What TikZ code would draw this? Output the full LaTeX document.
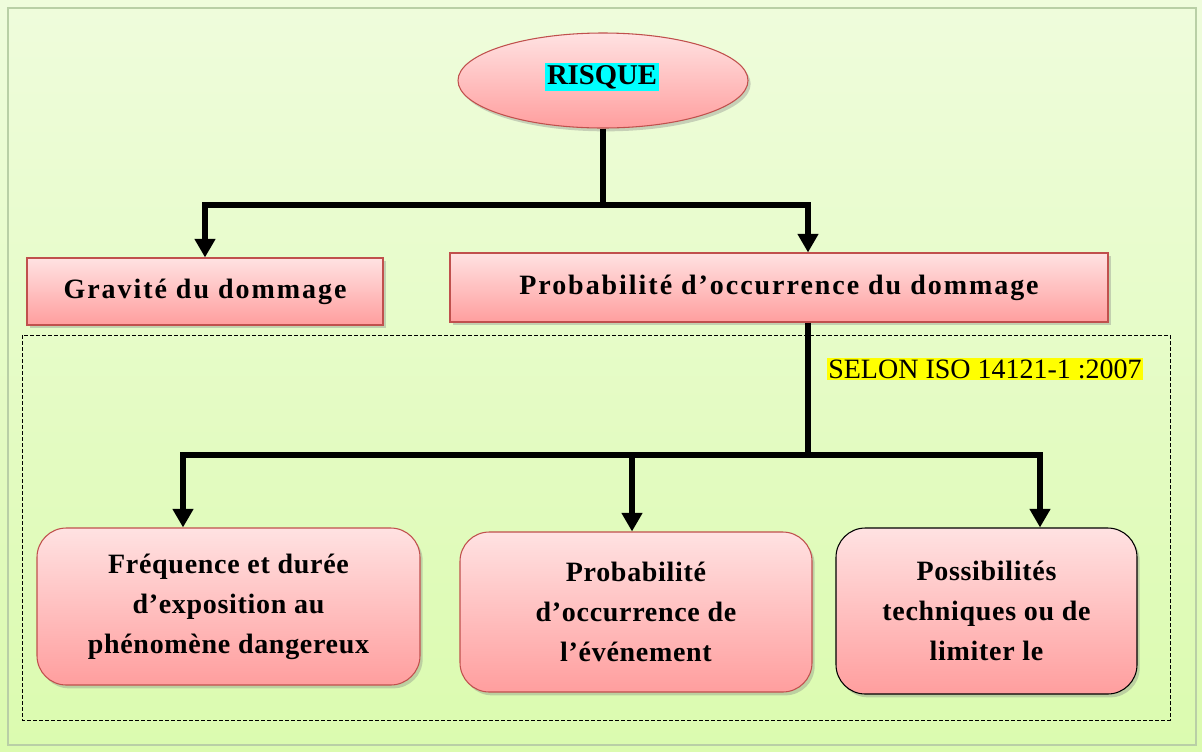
\documentclass[tikz,border=0pt]{standalone}
\usepackage{fontspec}
\setmainfont{Liberation Serif}
\newfontfamily\spaced[LetterSpace=7]{Liberation Serif}
\newfontfamily\lspaced[LetterSpace=2.5]{Liberation Serif}
\usetikzlibrary{arrows.meta,shapes.geometric,shadows}
\definecolor{bgtop}{HTML}{EFFCDC}
\definecolor{bgbot}{HTML}{DBFBAF}
\definecolor{frame}{HTML}{B9CFA6}
\definecolor{pinktop}{HTML}{FFE2E2}
\definecolor{pinkbot}{HTML}{FF9E9E}
\definecolor{redline}{HTML}{C0504D}
\definecolor{hcyan}{HTML}{00FFFF}
\definecolor{hyellow}{HTML}{FFFF00}
\tikzset{
  pinkbox/.style={draw=redline, line width=0.8pt, top color=pinktop, bottom color=pinkbot,
    drop shadow={opacity=0.35, shadow xshift=2pt, shadow yshift=-2.5pt},
    inner sep=0pt, align=center, font=\spaced\fontsize{21}{28}\selectfont\bfseries},
  roundbox/.style={pinkbox, rounded corners=22pt, font=\lspaced\fontsize{21}{30}\selectfont\bfseries},
  conn/.style={line width=5pt, -{Triangle[width=15pt,length=14pt]}, miter limit=10},
  bus/.style={line width=5pt}
}
\begin{document}
\begin{tikzpicture}[x=0.75pt,y=-0.75pt]
\useasboundingbox (0,0) rectangle (1202,751);
\shade[top color=bgtop, bottom color=bgbot] (0,0) rectangle (1202,751);
\draw[frame, line width=1.5pt] (8,8) rectangle (1196,745);
% dashed frame
\draw[dashed, line width=0.6pt, dash pattern=on 3pt off 1.5pt] (22,335) rectangle (1170,720);
% nodes
\node[pinkbox, ellipse, minimum width=217.5pt, minimum height=71.25pt] (risque) at (603,80.5) {};
\node[fill=hcyan, inner sep=1.5pt, font=\fontsize{21.5}{24}\selectfont\bfseries] (rtxt) at (602,77) {RISQUE};
\node[pinkbox, minimum width=267pt, minimum height=50.25pt] (grav) at (205,291.5) {Gravité du dommage};
\node[pinkbox, minimum width=493.5pt, minimum height=51.75pt] (prob) at (779,287.5) {Probabilité d’occurrence du dommage};
\node[fill=hyellow, inner sep=1pt, font=\fontsize{21}{22}\selectfont] (selon) at (985,369) {SELON ISO 14121-1 :2007};
\node[roundbox, minimum width=287.25pt, minimum height=117.75pt] (b1) at (228.5,606.5) {Fréquence et durée\\d’exposition au\\phénomène dangereux};
\node[roundbox, minimum width=264pt, minimum height=120pt] (b2) at (636,612) {Probabilité\\d’occurrence de\\l’événement};
\node[roundbox, draw=black, minimum width=225.75pt, minimum height=124.5pt] (b3) at (986.5,611) {Possibilités\\techniques ou de\\limiter le};
% connectors
\coordinate (t1) at (603,205);
\coordinate (tl) at (205,205);
\coordinate (tr) at (808,205);
\draw[bus] (risque.south) -- (risque.south |- t1);
\draw[conn] ([xshift=2pt]tl) -- (tl) -- (grav.north);
\draw[conn] (tl) -- (tr) -- (tr |- prob.north);
\coordinate (m1) at (808,455);
\coordinate (ml) at (183,455);
\coordinate (mm) at (632,455);
\coordinate (mr) at (1040,455);
\draw[bus] (m1 |- prob.south) -- (m1);
\draw[conn] (mr) -- (ml) -- (ml |- b1.north);
\draw[conn] (mm) -- (mm |- b2.north);
\draw[conn] ([xshift=-2pt]mr) -- (mr) -- (mr |- b3.north);
\end{tikzpicture}
\end{document}
